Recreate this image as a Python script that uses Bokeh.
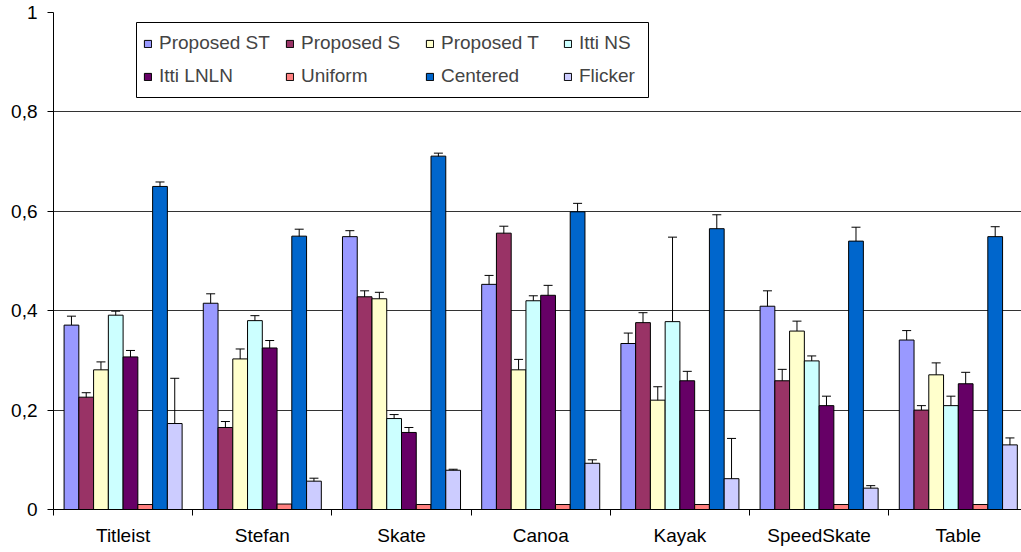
import numpy as np
from bokeh.plotting import figure
from bokeh.models import (ColumnDataSource, Whisker, TeeHead, FixedTicker, Legend,
                          LegendItem, Range1d, CustomJSTickFormatter, BoxAnnotation)
from bokeh.embed import file_html
from bokeh.resources import INLINE

categories = ["Titleist", "Stefan", "Skate", "Canoa", "Kayak", "SpeedSkate", "Table"]

series_names = ["Proposed ST", "Proposed S", "Proposed T", "Itti NS",
                "Itti LNLN", "Uniform", "Centered", "Flicker"]
series_colors = ["#9999FF", "#993366", "#FFFFCC", "#CCFFFF",
                 "#660066", "#FF8080", "#0066CC", "#CCCCFF"]

proposed_st = [0.371, 0.415, 0.549, 0.453, 0.334, 0.409, 0.341]
proposed_st_err = [0.018, 0.019, 0.012, 0.018, 0.021, 0.031, 0.019]
proposed_s = [0.226, 0.165, 0.428, 0.556, 0.376, 0.259, 0.200]
proposed_s_err = [0.009, 0.012, 0.012, 0.014, 0.020, 0.023, 0.009]
proposed_t = [0.281, 0.303, 0.424, 0.281, 0.220, 0.359, 0.271]
proposed_t_err = [0.016, 0.020, 0.013, 0.021, 0.027, 0.020, 0.024]
itti_ns = [0.391, 0.380, 0.183, 0.420, 0.378, 0.299, 0.209]
itti_ns_err = [0.008, 0.010, 0.008, 0.010, 0.170, 0.010, 0.019]
itti_lnln = [0.307, 0.325, 0.155, 0.431, 0.259, 0.209, 0.253]
itti_lnln_err = [0.013, 0.015, 0.010, 0.020, 0.019, 0.019, 0.023]
uniform = [0.010, 0.011, 0.010, 0.010, 0.010, 0.010, 0.010]
uniform_err = None
centered = [0.650, 0.550, 0.711, 0.599, 0.565, 0.540, 0.549]
centered_err = [0.009, 0.014, 0.006, 0.017, 0.028, 0.028, 0.020]
flicker = [0.173, 0.057, 0.079, 0.093, 0.062, 0.043, 0.130]
flicker_err = [0.091, 0.006, 0.002, 0.007, 0.081, 0.005, 0.014]

values = [proposed_st, proposed_s, proposed_t, itti_ns, itti_lnln, uniform, centered, flicker]
errors = [proposed_st_err, proposed_s_err, proposed_t_err, itti_ns_err, itti_lnln_err,
          uniform_err, centered_err, flicker_err]

FONT = "Liberation Sans"
FS = "19px"
BAR_W = 0.106

W, H = 1021, 552
BL, BT, BB = 53, 12, 43
p = figure(width=W, height=H, x_range=Range1d(0, 6.954), y_range=Range1d(0, 1),
           output_backend="svg", toolbar_location=None,
           min_border_left=BL, min_border_right=0, min_border_top=BT, min_border_bottom=BB)
p.outline_line_color = None
p.background_fill_color = "white"
p.border_fill_color = "white"
p.xgrid.visible = False
p.ygrid.grid_line_color = "#333333"
p.ygrid.grid_line_width = 1

# y axis
p.yaxis.ticker = FixedTicker(ticks=[0, 0.2, 0.4, 0.6, 0.8, 1.0], minor_ticks=[])
p.yaxis.formatter = CustomJSTickFormatter(code="""
    if (Math.abs(tick) < 1e-9) return "0";
    if (Math.abs(tick - 1) < 1e-9) return "1";
    return tick.toFixed(1).replace('.', ',');
""")
p.yaxis.major_tick_in = 0
p.yaxis.major_tick_out = 6
p.yaxis.minor_tick_line_color = None
p.yaxis.major_label_standoff = 10
p.yaxis.axis_line_color = "black"
p.yaxis.major_tick_line_color = "black"
p.yaxis.major_label_text_font = FONT
p.yaxis.major_label_text_font_size = FS
p.yaxis.major_label_text_color = "black"

# x axis
p.xaxis.ticker = FixedTicker(ticks=[i + 0.5 for i in range(len(categories))],
                             minor_ticks=list(range(len(categories) + 1)))
p.xaxis.formatter = CustomJSTickFormatter(args=dict(cats=categories),
                                          code="return cats[Math.floor(tick)];")
p.xaxis.major_tick_in = 0
p.xaxis.major_tick_out = 0
p.xaxis.minor_tick_in = 0
p.xaxis.minor_tick_out = 6
p.xaxis.minor_tick_line_color = "black"
p.xaxis.major_label_standoff = 9
p.xaxis.axis_line_color = "black"
p.xaxis.major_label_text_font = FONT
p.xaxis.major_label_text_font_size = FS
p.xaxis.major_label_text_color = "black"

idx = np.arange(len(categories))
renderers = []
n = len(series_names)
for j, (name, color, vals, errs) in enumerate(zip(series_names, series_colors, values, errors)):
    x = idx + 0.5 + (j - (n - 1) / 2) * BAR_W
    data = dict(x=x, top=vals)
    if errs is not None:
        data["upper"] = np.array(vals) + np.array(errs)
        data["lower"] = np.array(vals) - np.array(errs)
    src = ColumnDataSource(data)
    r = p.vbar(x="x", top="top", bottom=0, width=BAR_W, source=src,
               fill_color=color, line_color="black", line_width=1)
    renderers.append(r)
    if errs is not None:
        w = Whisker(source=src, base="x", upper="upper", lower="lower",
                    line_color="black", line_width=1,
                    upper_head=TeeHead(size=9, line_color="black", line_width=1),
                    lower_head=TeeHead(size=9, line_color="black", line_width=1))
        p.add_layout(w)

# legend frame (canvas pixels)
box = BoxAnnotation(left=136, right=648, top=22, bottom=97,
                    left_units="canvas", right_units="canvas",
                    top_units="canvas", bottom_units="canvas",
                    fill_color="white", fill_alpha=1.0,
                    line_color="black", line_width=1, line_alpha=1.0)
p.add_layout(box)

# legend: four columns of two items each, placed to match the reference
col_x = [143, 285, 425, 563]
legend_bottom_from_frame_bottom = (H - BB) - 85 - 2
for c in range(4):
    its = [LegendItem(label=series_names[c], renderers=[renderers[c]]),
           LegendItem(label=series_names[c + 4], renderers=[renderers[c + 4]])]
    lg = Legend(items=its, orientation="vertical",
                location=(col_x[c] - BL, legend_bottom_from_frame_bottom),
                label_text_font=FONT, label_text_font_size=FS,
                glyph_width=9, glyph_height=9, label_standoff=7, spacing=11,
                padding=0, margin=0, border_line_color=None,
                background_fill_alpha=0.0)
    p.add_layout(lg)

open("out.html", "w").write(file_html(p, INLINE))
